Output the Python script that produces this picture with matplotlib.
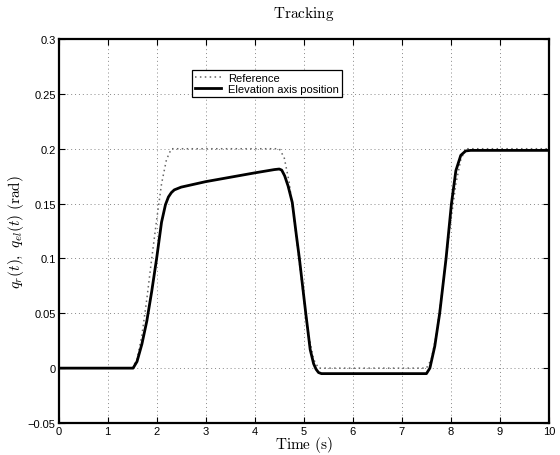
"""Tracking plot: reference vs elevation axis position."""

import matplotlib as mpl
import matplotlib.pyplot as plt

mpl.rcParams.update(
    {
        "font.family": "sans-serif",
        "font.sans-serif": ["Liberation Sans", "DejaVu Sans"],
        "mathtext.fontset": "cm",
        "font.size": 8,
        "axes.linewidth": 1.6,
    }
)

# reference trajectory q_r(t)
ref_t = [0.0, 1.5, 1.6, 1.7, 1.8, 1.9, 2.0, 2.1, 2.2, 2.3,
         4.5, 4.6, 4.7, 4.8, 4.9, 5.0, 5.1, 5.2, 5.3,
         7.5, 7.6, 7.7, 7.8, 7.9, 8.0, 8.1, 8.2, 8.3, 10.0]
ref_q = [0.0, 0.0, 0.008, 0.03, 0.063, 0.1, 0.135, 0.168, 0.19, 0.2,
         0.2, 0.192, 0.17, 0.137, 0.1, 0.063, 0.03, 0.008, 0.0,
         0.0, 0.008, 0.03, 0.063, 0.1, 0.135, 0.168, 0.19, 0.2, 0.2]

# measured elevation axis position q_el(t)
pos_t = [0.0, 1.52, 1.6, 1.7, 1.8, 1.9, 2.0, 2.1, 2.18, 2.24, 2.3, 2.36,
         2.5, 3.0, 3.5, 4.0, 4.4, 4.5, 4.55, 4.61, 4.68, 4.765, 4.85, 4.91,
         5.04, 5.13, 5.2, 5.25, 5.3, 5.36, 7.5, 7.57, 7.67, 7.77, 7.9,
         8.01, 8.1, 8.2, 8.3, 8.4, 10.0]
pos_q = [0.0, 0.0, 0.006, 0.022, 0.043, 0.07, 0.1, 0.133, 0.149, 0.156, 0.160, 0.1625,
         0.165, 0.170, 0.174, 0.178, 0.181, 0.1815, 0.1805, 0.1753, 0.166, 0.151, 0.1206, 0.1,
         0.05, 0.017, 0.004, -0.001, -0.004, -0.005, -0.005, 0.0, 0.02, 0.05, 0.1,
         0.15, 0.18, 0.194, 0.198, 0.1985, 0.1985]

x_ticks = list(range(0, 11))
y_ticks = [-0.05, 0, 0.05, 0.1, 0.15, 0.2, 0.25, 0.3]
y_labels = ["\u22120.05", "0", "0.05", "0.1", "0.15", "0.2", "0.25", "0.3"]

fig = plt.figure(figsize=(5.6, 4.56), dpi=100)
ax = fig.add_axes([0.1045, 0.0702, 0.876, 0.842])

ax.plot(ref_t, ref_q, color="#666666", lw=1.1, linestyle=(0, (1, 2.2)), label="Reference")
ax.plot(pos_t, pos_q, color="black", lw=2.0, label="Elevation axis position")

ax.set_xlim(0, 10)
ax.set_ylim(-0.05, 0.3)
ax.set_xticks(x_ticks)
ax.set_yticks(y_ticks)
ax.set_yticklabels(y_labels)
ax.tick_params(direction="in", top=True, right=True, length=4, width=0.8, pad=2, labelsize=8)
ax.grid(True, color="#888888", linestyle=(0, (1, 3)), linewidth=0.7)

ax.set_title(r"$\mathrm{Tracking}$", fontsize=11, pad=16)
ax.set_xlabel(r"$\mathrm{Time\ (s)}$", fontsize=11, labelpad=-1)
ax.set_ylabel(r"$q_r(t),\ q_{el}(t)\ \mathrm{(rad)}$", fontsize=11, labelpad=1)

leg = ax.legend(
    loc="upper left",
    bbox_to_anchor=(0.2716, 0.919),
    fontsize=8,
    frameon=True,
    fancybox=False,
    borderpad=0.25,
    handlelength=2.4,
    handletextpad=0.6,
    labelspacing=0.1,
    borderaxespad=0.0,
)
leg.get_frame().set_edgecolor("black")
leg.get_frame().set_linewidth(0.9)
leg.get_frame().set_alpha(1.0)

fig.savefig("out.png", dpi=100)
